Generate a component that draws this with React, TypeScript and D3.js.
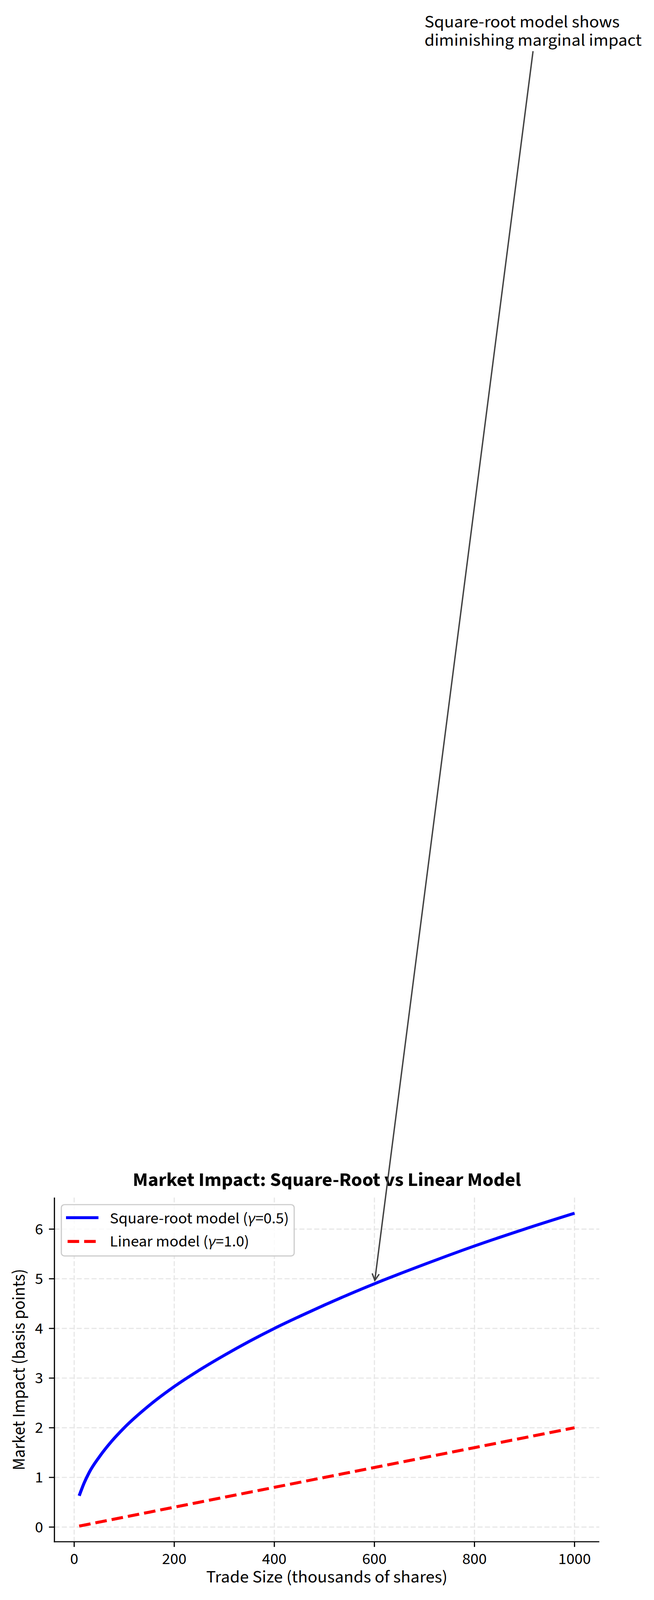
import React, { useLayoutEffect, useState } from "react";
import * as d3 from "d3";

// ---- data ----
const tradeSize = [10, 20, 30, 50, 75, 100, 150, 200, 250, 300, 350, 400, 450, 500, 600, 700, 800, 900, 1000];
const sqrtImpact = [0.63, 0.89, 1.1, 1.41, 1.73, 2.0, 2.45, 2.83, 3.16, 3.46, 3.74, 4.0, 4.24, 4.47, 4.9, 5.29, 5.66, 6.0, 6.32];
const linearImpact = [0.02, 0.04, 0.06, 0.1, 0.15, 0.2, 0.3, 0.4, 0.5, 0.6, 0.7, 0.8, 0.9, 1.0, 1.2, 1.4, 1.6, 1.8, 2.0];
const xTicks = [0, 200, 400, 600, 800, 1000];
const yTicks = [0, 1, 2, 3, 4, 5, 6];
const xDomain = [-39.5, 1049.5];
const yDomain = [-0.295, 6.635];
const annotPoint = [600, 4.9];
const annotTextPos = [700, 30.2];
const annotLines = ["Square-root model shows", "diminishing marginal impact"];
const titleText = "Market Impact: Square-Root vs Linear Model";
const xLabelText = "Trade Size (thousands of shares)";
const yLabelText = "Market Impact (basis points)";

const W = 1674;
const H = 4302;
const M = { left: 139.3, right: 1534, top: 3220, bottom: 4145.3 };
const FONT = "'Source Sans Pro', 'Source Sans 3', Lato, 'Noto Sans', sans-serif";

export default function App() {
  // the viewport may be shorter than the chart; fit the whole drawing into it
  const [viewH, setViewH] = useState(() =>
    typeof window !== "undefined" ? Math.min(H, window.innerHeight || H) : H
  );
  useLayoutEffect(() => {
    document.body.style.margin = "0";
    document.body.style.padding = "0";
    document.documentElement.style.margin = "0";
    document.body.style.overflow = "hidden";
    setViewH(Math.min(H, window.innerHeight || H));
  }, []);

  const x = d3.scaleLinear().domain(xDomain).range([M.left, M.right]);
  const y = d3.scaleLinear().domain(yDomain).range([M.bottom, M.top]);

  const sqrtData = tradeSize.map((t, i) => [t, sqrtImpact[i]] as [number, number]);
  const linData = tradeSize.map((t, i) => [t, linearImpact[i]] as [number, number]);
  const line = d3
    .line<[number, number]>()
    .x((d) => x(d[0]))
    .y((d) => y(d[1]))
    .curve(d3.curveMonotoneX);

  const cx = (M.left + M.right) / 2;
  const cy = (M.top + M.bottom) / 2;

  const tx = x(annotTextPos[0]);
  const ty = y(annotTextPos[1]);
  const lineGap = 49;
  const target = [x(annotPoint[0]), y(annotPoint[1])];
  const start = [tx + 278, ty + lineGap + 15];
  const dx = target[0] - start[0];
  const dy = target[1] - start[1];
  const len = Math.hypot(dx, dy);
  const ux = dx / len;
  const uy = dy / len;
  const tip = [target[0] - ux * 9, target[1] - uy * 9];
  const hl = 18;
  const hw = 9;
  const head1 = [tip[0] - ux * hl - uy * hw, tip[1] - uy * hl + ux * hw];
  const head2 = [tip[0] - ux * hl + uy * hw, tip[1] - uy * hl - ux * hw];

  const gridColor = "#e7e7e7";

  return (
    <svg
      width={W}
      height={viewH}
      viewBox={`0 0 ${W} ${H}`}
      preserveAspectRatio="none"
      style={{ display: "block", background: "#ffffff" }}
      fontFamily={FONT}
    >
      <rect x={0} y={0} width={W} height={H} fill="#ffffff" />

      {/* grid */}
      <g stroke={gridColor} strokeWidth={3} strokeDasharray="13,6" fill="none">
        {xTicks.map((t) => (
          <line key={"gx" + t} x1={x(t)} x2={x(t)} y1={M.top} y2={M.bottom} />
        ))}
        {yTicks.map((t) => (
          <line key={"gy" + t} x1={M.left} x2={M.right} y1={y(t)} y2={y(t)} />
        ))}
      </g>

      {/* series */}
      <path d={line(linData) || ""} fill="none" stroke="#ff0000" strokeWidth={8} strokeDasharray="29.6,12.8" />
      <path d={line(sqrtData) || ""} fill="none" stroke="#0000ff" strokeWidth={8} />

      {/* spines */}
      <line x1={M.left} x2={M.left} y1={M.top} y2={M.bottom + 1.5} stroke="#000" strokeWidth={3} />
      <line x1={M.left - 1.5} x2={M.right} y1={M.bottom} y2={M.bottom} stroke="#000" strokeWidth={3} />

      {/* x ticks */}
      {xTicks.map((t) => (
        <g key={"xt" + t}>
          <line x1={x(t)} x2={x(t)} y1={M.bottom} y2={M.bottom + 14} stroke="#000" strokeWidth={3} />
          <text x={x(t)} y={M.bottom + 60} textAnchor="middle" fontSize={42} fill="#000">
            {t}
          </text>
        </g>
      ))}
      {/* y ticks */}
      {yTicks.map((t) => (
        <g key={"yt" + t}>
          <line x1={M.left - 14} x2={M.left} y1={y(t)} y2={y(t)} stroke="#000" strokeWidth={3} />
          <text x={M.left - 29} y={y(t) + 14} textAnchor="end" fontSize={42} fill="#000">
            {t}
          </text>
        </g>
      ))}

      {/* axis labels */}
      <text x={cx} y={4255} textAnchor="middle" fontSize={46} fill="#000">
        {xLabelText}
      </text>
      <text transform={`translate(63,${cy}) rotate(-90)`} textAnchor="middle" fontSize={46} fill="#000">
        {yLabelText}
      </text>

      {/* title */}
      <text x={cx} y={3189} textAnchor="middle" fontSize={51} fontWeight="bold" fill="#000">
        {titleText}
      </text>

      {/* legend */}
      <g>
        <rect x={157} y={3239} width={596} height={138} rx={8} ry={8} fill="#ffffff" fillOpacity={0.8} stroke="#cccccc" strokeWidth={3} />
        <line x1={169} x2={252} y1={3274} y2={3274} stroke="#0000ff" strokeWidth={8} />
        <line x1={169} x2={252} y1={3338} y2={3338} stroke="#ff0000" strokeWidth={8} strokeDasharray="29.6,12.8" strokeDashoffset={-4} />
        <text x={281} y={3289} fontSize={42} fill="#000">
          Square-root model (<tspan fontStyle="italic">γ</tspan>=0.5)
        </text>
        <text x={281} y={3352} fontSize={42} fill="#000">
          Linear model (<tspan fontStyle="italic">γ</tspan>=1.0)
        </text>
      </g>

      {/* annotation */}
      <text x={tx} y={ty} fontSize={46.5} fill="#000">
        {annotLines.map((l, i) => (
          <tspan key={i} x={tx} y={ty + i * lineGap}>
            {l}
          </tspan>
        ))}
      </text>
      <line x1={start[0]} y1={start[1]} x2={tip[0]} y2={tip[1]} stroke="#404040" strokeWidth={3.5} />
      <polyline
        points={`${head1[0]},${head1[1]} ${tip[0]},${tip[1]} ${head2[0]},${head2[1]}`}
        fill="none"
        stroke="#404040"
        strokeWidth={3.5}
      />
    </svg>
  );
}
